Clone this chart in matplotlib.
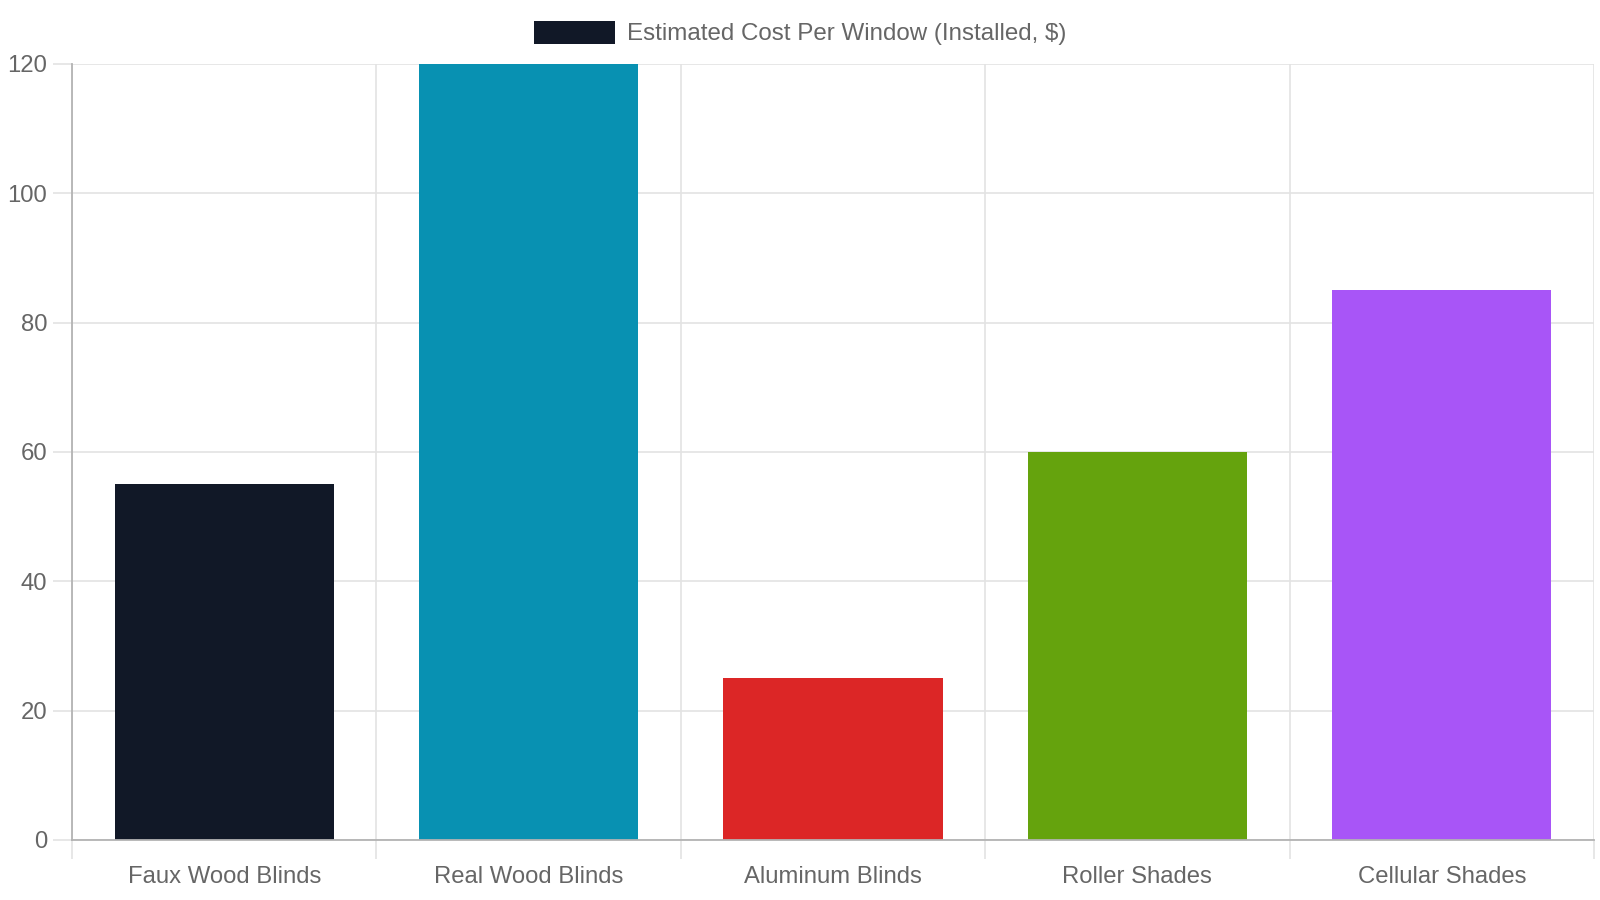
import matplotlib
matplotlib.use("Agg")
import matplotlib.pyplot as plt
import numpy as np

categories = ["Faux Wood Blinds", "Real Wood Blinds", "Aluminum Blinds",
              "Roller Shades", "Cellular Shades"]
costs = [55, 120, 25, 60, 85]
colors = ["#111827", "#0891b2", "#dc2626", "#65a30d", "#a855f7"]
series_label = "Estimated Cost Per Window (Installed, $)"
y_ticks = [0, 20, 40, 60, 80, 100, 120]

plt.rcParams["font.family"] = ["Liberation Sans", "DejaVu Sans"]
TEXT = "#666666"
GRID = "#e3e3e3"
AXIS = "#b3b3b3"

fig = plt.figure(figsize=(16, 9), dpi=100)
ax = fig.add_axes([72 / 1600, 60 / 900, (1594 - 72) / 1600, (840 - 64) / 900])

x = np.arange(len(categories))
bars = ax.bar(x, costs, width=0.72, color=colors, label=series_label, zorder=3)

ax.set_xlim(-0.5, len(categories) - 0.5)
ax.set_ylim(0, 120)
ax.set_yticks(y_ticks)
ax.set_xticks(x)
ax.set_xticklabels(categories)
ax.set_xticks(np.arange(-0.5, len(categories)), minor=True)

ax.grid(axis="y", which="major", color=GRID, linewidth=1.2, zorder=0)
ax.grid(axis="x", which="minor", color=GRID, linewidth=1.2, zorder=0)
ax.set_axisbelow(True)

ax.tick_params(axis="y", which="major", length=14, width=1.2, color=GRID,
               pad=4, labelsize=17.2, labelcolor=TEXT)
ax.tick_params(axis="x", which="major", length=0, pad=19,
               labelsize=17.2, labelcolor=TEXT)
ax.tick_params(axis="x", which="minor", length=14, width=1.2, color=GRID)

for side in ("top", "right"):
    ax.spines[side].set_visible(False)
for side in ("left", "bottom"):
    ax.spines[side].set_color(AXIS)
    ax.spines[side].set_linewidth(1.3)
    ax.spines[side].set_zorder(4)

leg = fig.legend(handles=[bars.patches[0]], labels=[series_label],
                 loc="center", bbox_to_anchor=(0.5, 1 - 33 / 900),
                 frameon=False, fontsize=17.4, handlelength=3.35,
                 handleheight=1.1, handletextpad=0.5, borderaxespad=0)
for t in leg.get_texts():
    t.set_color(TEXT)

fig.savefig("out.png", dpi=100, facecolor="white")
